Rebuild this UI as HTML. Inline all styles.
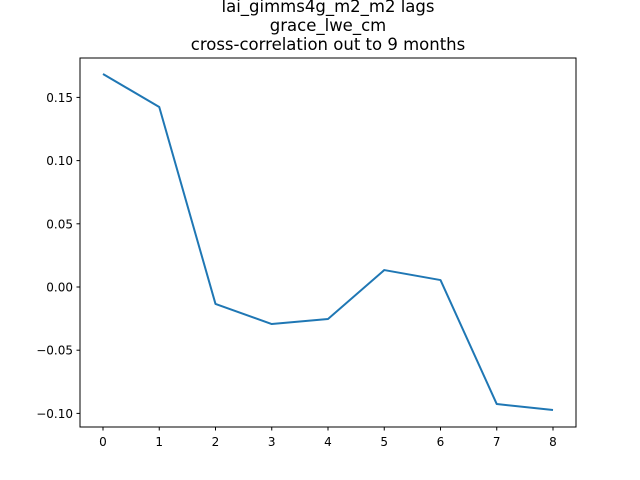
<!DOCTYPE html>
<html><head><meta charset="utf-8"><style>
body{margin:0;background:#fff;}
svg{display:block;font-family:"DejaVu Sans","Liberation Sans",sans-serif;}
</style></head><body>
<svg id="chart" width="640" height="480">
<text x="328" y="12" text-anchor="middle" font-size="16.5">lai_gimms4g_m2_m2 lags</text>
<text x="328" y="31" text-anchor="middle" font-size="16.5">grace_lwe_cm</text>
<text x="328" y="50" text-anchor="middle" font-size="16.5">cross-correlation out to 9 months</text>
<rect x="80" y="58" width="496" height="369" fill="none" stroke="#000" stroke-width="1"/>
<g id="axes"></g>
<polyline id="line" fill="none" stroke="#1f77b4" stroke-width="2" stroke-linejoin="round"/>
</svg>
<script>
const lags = [0,1,2,3,4,5,6,7,8];
const corr = [0.1685,0.1424,-0.0134,-0.0293,-0.0253,0.0134,0.0055,-0.0926,-0.0973];
const yTicks = [-0.10,-0.05,0.00,0.05,0.10,0.15];
const yTickLabels = ["\u22120.10","\u22120.05","0.00","0.05","0.10","0.15"];
const xTicks = [0,1,2,3,4,5,6,7,8];
const ns="http://www.w3.org/2000/svg";
function xs(v){return 103+v*56.25;}
function ys(v){return 287-v*1264;}
const g=document.getElementById('axes');
xTicks.forEach(t=>{
  const l=document.createElementNS(ns,'line');
  l.setAttribute('x1',xs(t));l.setAttribute('x2',xs(t));l.setAttribute('y1',427);l.setAttribute('y2',430.5);l.setAttribute('stroke','#000');
  
  
  g.appendChild(l);
  const tx=document.createElementNS(ns,'text');
  tx.setAttribute('x',xs(t));tx.setAttribute('y',446);tx.setAttribute('text-anchor','middle');tx.setAttribute('font-size','12');
  tx.textContent=t;
  
  
  g.appendChild(tx);
});
yTicks.forEach((t,i)=>{
  const l=document.createElementNS(ns,'line');
  l.setAttribute('x1',76.5);l.setAttribute('x2',80);l.setAttribute('y1',ys(t));l.setAttribute('y2',ys(t));l.setAttribute('stroke','#000');
  
  
  g.appendChild(l);
  const tx=document.createElementNS(ns,'text');
  tx.setAttribute('x',73);tx.setAttribute('y',ys(t)+4.5);tx.setAttribute('text-anchor','end');tx.setAttribute('font-size','12');
  tx.textContent=yTickLabels[i];
  
  
  g.appendChild(tx);
});
document.getElementById('line').setAttribute('points',lags.map((x,i)=>xs(x)+','+ys(corr[i])).join(' '));
</script>
</body></html>
